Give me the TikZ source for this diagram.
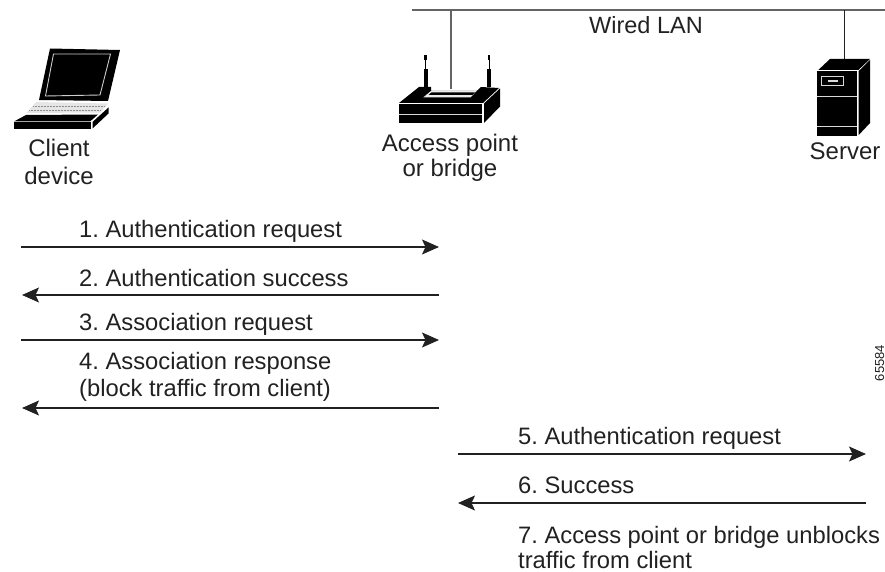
\documentclass[tikz,border=0pt]{standalone}
\usepackage{fontspec}
\setmainfont{Liberation Sans}
\usetikzlibrary{arrows.meta}
\definecolor{ink}{gray}{0.13}
\tikzset{
  lbl/.style={inner sep=0pt,anchor=base west,text=ink,font=\fontsize{23.75}{26}\selectfont\frenchspacing},
  lblc/.style={inner sep=0pt,anchor=base,text=ink,font=\fontsize{24}{26}\selectfont\frenchspacing},
  msg/.style={draw=ink,line width=1.3pt,-{Stealth[length=17pt,width=15pt,inset=3.5pt]}},
  wire/.style={draw=ink!70,line width=1.3pt},
  hair/.style={draw=white!80!black,line width=1pt}
}
\begin{document}
\begin{tikzpicture}[x=1pt,y=-1pt]
\useasboundingbox (0,0) rectangle (885,572);
% LAN
\coordinate (lanL) at (412,10);
\coordinate (lanR) at (885,10);
\coordinate (lanAP) at (451,10);
\coordinate (lanS) at (844.5,10);
\coordinate (apTop) at (451,89);
\coordinate (srvTop) at (844.5,59);
\draw[wire] (lanL) -- (lanR);
\draw[wire] (lanAP) -- (apTop);
\draw[wire,draw=ink] (lanS) -- (srvTop);
\node[lblc,font=\fontsize{23.5}{26}\selectfont] (wired) at (646,34) {Wired LAN};
% Laptop
\fill[black] (50,48.5) -- (120,50) -- (108,101) -- (39,100) -- cycle;
\draw[hair,line width=0.9pt] (53.5,54) -- (110.5,54) -- (100,95) -- (45.5,96) -- cycle;
\fill[black!10] (36,102) -- (108,103.5) -- (100.5,112.5) -- (26.5,113) -- cycle;
\draw[black!45,line width=.5pt,densely dotted] (33,106) -- (104,106) (29,110) -- (101,110);
\fill[black] (26,115) -- (98,114.5) -- (90,121.5) -- (14,121.5) -- cycle;
\fill[black] (14,122.5) -- (91,122.5) -- (91,129) -- (14,129) -- cycle;
\fill[black] (92.5,122) -- (108.5,107.5) -- (108.5,113.5) -- (92.5,128.5) -- cycle;
\node[lblc] (client1) at (59,157) {Client};
\node[lblc] (client2) at (59,184) {device};
% Access point
\foreach \ax in {425.7,489}{
  \fill[black] (\ax-1.3,55) rectangle (\ax+1.3,60);
  \draw[black,line width=.8pt] (\ax,60) -- (\ax,70);
  \fill[black] (\ax-2,69) rectangle (\ax+2,87.5);
}
\fill[black] (399,103) -- (419,87) -- (431,87) -- (431,91) -- (476.7,91) -- (481,87) -- (499,88) -- (483,103) -- cycle;
\fill[white!92!black] (423.3,97.3) -- (431,91) -- (476.7,91) -- (470.5,97.3) -- cycle;
\fill[black] (431.5,92.3) -- (475,92.3) -- (472.5,95) -- (428.5,95) -- cycle;
\fill[black] (399,104.3) rectangle (482,123.3);
\draw[white!85!black,line width=1pt] (399,114.3) -- (482,114.3);
\fill[black] (484,103.5) -- (500,88.5) -- (500,106.5) -- (484,123) -- cycle;
\node[lblc] (ap1) at (450,152) {Access point};
\node[lblc] (ap2) at (450,177) {or bridge};
% Server
\fill[black] (818.3,70) -- (830,59) -- (870,59) -- (858.3,70) -- cycle;
\fill[black] (817.3,71) rectangle (857.3,135.7);
\fill[black] (858.7,71) -- (870,60) -- (870,123) -- (858.7,135) -- cycle;
\draw[white!85!black,line width=.9pt] (817.3,96) -- (857.3,96) (817.3,126.7) -- (857.3,126.7);
\draw[white!85!black,line width=.9pt] (821.7,76.7) rectangle (843.3,85.7);
\fill[white!85!black] (827.5,80.3) rectangle (837.7,82.3);
\node[lblc] (server) at (845,160) {Server};
% Messages
\coordinate (m1a) at (21,247);  \coordinate (m1b) at (439,247);
\coordinate (m2a) at (439,295); \coordinate (m2b) at (22,295);
\coordinate (m3a) at (21,340);  \coordinate (m3b) at (439,340);
\coordinate (m4a) at (439,408); \coordinate (m4b) at (22,408);
\coordinate (m5a) at (458,454); \coordinate (m5b) at (866,454);
\coordinate (m6a) at (866,503); \coordinate (m6b) at (458,503);
\path[msg] (m1a) -- (m1b);
\path[msg] (m2a) -- (m2b);
\path[msg] (m3a) -- (m3b);
\path[msg] (m4a) -- (m4b);
\path[msg] (m5a) -- (m5b);
\path[msg] (m6a) -- (m6b);
\node[lbl] (t1) at (79,237) {1. Authentication request};
\node[lbl] (t2) at (79,286) {2. Authentication success};
\node[lbl] (t3) at (79,330) {3. Association request};
\node[lbl] (t4a) at (79,369) {4. Association response};
\node[lbl] (t4b) at (79,396) {(block traffic from client)};
\node[lbl] (t5) at (518,444) {5. Authentication request};
\node[lbl] (t6) at (518,493) {6. Success};
\node[lbl] (t7a) at (518,543) {7. Access point or bridge unblocks};
\node[lbl] (t7b) at (518,568) {traffic from client};
\node[rotate=90,anchor=base,inner sep=0pt,text=ink,font=\fontsize{13}{15}\selectfont] (fig) at (884,363) {65584};
\end{tikzpicture}
\end{document}
